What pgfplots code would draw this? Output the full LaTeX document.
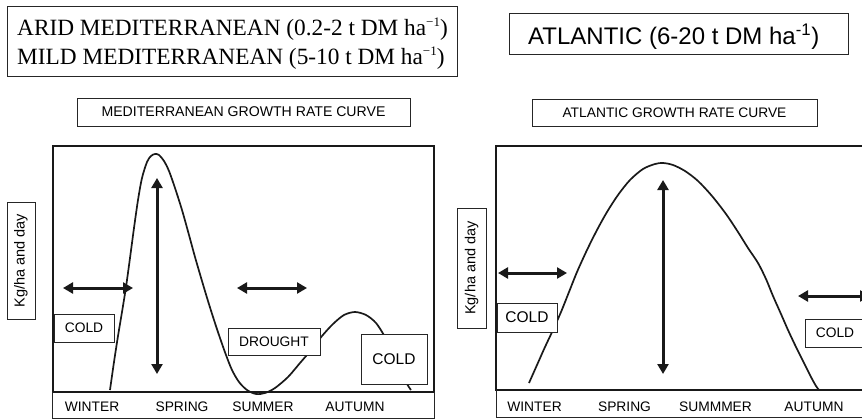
\documentclass[border=0pt]{standalone}
\usepackage{pgfplots}
\pgfplotsset{compat=1.18}
\usepackage{fontspec}
\setmainfont{Liberation Sans}
\newfontfamily\timesfont{Liberation Serif}
\usetikzlibrary{arrows.meta}

% one unit of each axis is one pixel of the reference, y counted downwards
\newcommand\fs[1]{\fontsize{#1}{#1}\selectfont}
\newcommand\perha{ha\raisebox{0.42em}{\fs{13}−1}}

\pgfplotsset{
  panel/.style={scale only axis, y dir=reverse, anchor=north west,
    xtick=\empty, ytick=\empty, clip=false,
    axis line style={line width=2.1pt, black!90}},
  curve/.style={line width=1.7pt, black!90, smooth, tension=0.5, mark=none},
  dbl/.style={line width=3pt, black!90, mark=none,
    {Triangle[length=10pt,width=11pt]}-{Triangle[length=10pt,width=11pt]}},
}
\tikzset{
  tbox/.style={line width=0.9pt, black!85, fill=white},
  season/.style={anchor=base, inner sep=0pt, font=\fs{13.8}},
}

\begin{document}
\begin{tikzpicture}
\useasboundingbox (0,0) rectangle (862pt,-419pt);
\clip (0,0) rectangle (862pt,-419pt);

% ---------------- Mediterranean
\begin{axis}[panel, at={(53pt,-146pt)}, width=381pt, height=246pt,
  xmin=53, xmax=434, ymin=146, ymax=392]
\addplot[curve] coordinates {
  (110,390) (114,362) (118,336) (122,312) (126,287) (130,258) (134,228)
  (138,200) (142,178) (147,162) (151,156) (155,154) (159,155) (164,161)
  (169,171) (175,188) (182,210) (189,235) (195,257) (202,281) (208,301)
  (214,320) (220,338) (226,355) (232,370) (239,382) (247,390) (256,394)
  (265,393) (275,388) (288,377) (300,363) (312,349) (322,336) (333,324)
  (344,315) (355,312) (366,315) (376,323) (385,337) (394,355) (402,372)
  (407,384) (411,390)};
\addplot[dbl] coordinates {(63,288) (133,288)};
\addplot[dbl] coordinates {(237,288) (307,288)};
\addplot[dbl] coordinates {(157,178) (157,374)};

% season strip
\draw[line width=1pt, black!85] (axis cs:53,392) -- (axis cs:53,418) -- (axis cs:434,418) -- (axis cs:434,392);
\node[season] at (axis cs:92,411) {WINTER};
\node[season] at (axis cs:182,411) {SPRING};
\node[season] at (axis cs:263,411) {SUMMER};
\node[season] at (axis cs:355,411) {AUTUMN};

% boxes in the plot
\draw[tbox] (axis cs:54,314) rectangle (axis cs:114,342);
\node at (axis cs:84,328) {\fs{13.8}COLD};
\draw[tbox] (axis cs:228,328) rectangle (axis cs:320,355);
\node at (axis cs:274,341.5) {\fs{13.8}DROUGHT};
\draw[tbox] (axis cs:361,334) rectangle (axis cs:427,384);
\node at (axis cs:394,359) {\fs{15.5}COLD};

% title, y label, header
\draw[tbox] (axis cs:77,98) rectangle (axis cs:410,126);
\node at (axis cs:243.5,112) {\fs{14.1}MEDITERRANEAN GROWTH RATE CURVE};
\draw[tbox] (axis cs:7,202) rectangle (axis cs:35,319);
\node[rotate=90] at (axis cs:21,260.5) {\fs{14.5}Kg/ha and day};
\draw[tbox] (axis cs:7,6) rectangle (axis cs:457,76);
\node[anchor=base west, inner sep=0pt] at (axis cs:17,36)
  {\timesfont\fs{23.3}ARID MEDITERRANEAN (0.2-2 t DM \perha)};
\node[anchor=base west, inner sep=0pt] at (axis cs:17,65)
  {\timesfont\fs{23.3}MILD MEDITERRANEAN (5-10 t DM \perha)};
\end{axis}

% ---------------- Atlantic
\begin{axis}[panel, at={(496pt,-146pt)}, width=384pt, height=244pt,
  xmin=496, xmax=880, ymin=146, ymax=390]
\addplot[curve] coordinates {
  (529,383) (537,365) (545,347) (553,330) (561,312) (569,292) (577,272)
  (587,250) (597,230) (607,212) (618,195) (630,180) (643,169) (655,164)
  (663,163) (673,165) (685,171) (698,181) (712,196) (726,214) (738,232)
  (748,248) (758,263) (766,279) (773,296) (781,314) (788,330) (796,347)
  (804,363) (811,377) (816,386) (819,390)};
\addplot[dbl] coordinates {(498,273) (567,273)};
\addplot[dbl] coordinates {(663,180) (663,374)};
\addplot[dbl] coordinates {(798,296) (870,296)};

\draw[line width=1pt, black!85] (axis cs:496,390) -- (axis cs:496,417) -- (axis cs:880,417);
\node[season] at (axis cs:534.5,411) {WINTER};
\node[season] at (axis cs:624.5,411) {SPRING};
\node[season] at (axis cs:715.5,411) {SUMMMER};
\node[season] at (axis cs:814,411) {AUTUMN};

\draw[tbox] (axis cs:497,303) rectangle (axis cs:557,332);
\node at (axis cs:527,317.5) {\fs{15.5}COLD};
\draw[tbox] (axis cs:805,319) rectangle (axis cs:880,347);
\node at (axis cs:835,333) {\fs{13.8}COLD};

\draw[tbox] (axis cs:532,99) rectangle (axis cs:817,126);
\node at (axis cs:674.5,112.5) {\fs{13.8}ATLANTIC GROWTH RATE CURVE};
\draw[tbox] (axis cs:457,208) rectangle (axis cs:486,328);
\node[rotate=90] at (axis cs:471.5,268) {\fs{14.5}Kg/ha and day};
\draw[tbox] (axis cs:509,13) rectangle (axis cs:848,54);
\node[anchor=base west, inner sep=0pt] at (axis cs:528,45)
  {\fs{24}ATLANTIC (6-20 t DM ha\textsuperscript{-1})};
\end{axis}
\end{tikzpicture}
\end{document}
